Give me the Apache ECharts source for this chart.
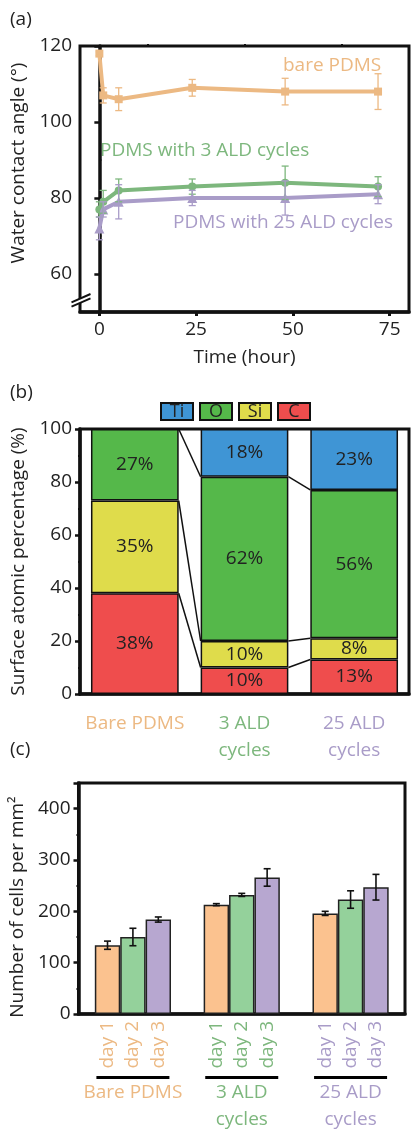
<!DOCTYPE html>
<html>
<head>
<meta charset="utf-8">
<script src="https://cdn.jsdelivr.net/npm/echarts@6/dist/echarts.min.js"></script>
<style>
html,body{margin:0;padding:0;background:#fff;}
#chart{width:411px;height:1131px;}
</style>
</head>
<body>
<div id="chart"></div>
<script>
// ---------- Panel (a): water contact angle ----------
const timeHours = [0, 1, 5, 24, 48, 72];
const bareAngle = [118, 107, 106, 109, 108, 108];
const bareErr = [0.5, 2, 3, 2.2, 3.5, 4.7];
const ald3Angle = [77, 79, 82, 83, 84, 83];
const ald3Err = [2, 3, 3, 2, 4.4, 2.6];
const ald25Angle = [72, 77, 79, 80, 80, 81];
const ald25Err = [3, 2, 4.5, 2, 4.5, 2.5];
const angleTicks = [60, 80, 100, 120];
const angleMinorTicks = [70, 90, 110];
const timeTicks = [0, 25, 50, 75];
const timeMinorTicks = [12.5, 37.5, 62.5];

// ---------- Panel (b): surface composition ----------
const sampleCats = ['Bare PDMS', '3 ALD\ncycles', '25 ALD\ncycles'];
const elementNames = ['Ti', 'O', 'Si', 'C'];
const tiPct = [0, 18, 23];
const oPct = [27, 62, 56];
const siPct = [35, 10, 8];
const cPct = [38, 10, 13];

// ---------- Panel (c): cell counts ----------
const dayNames = ['day 1', 'day 2', 'day 3'];
const day1Cells = [134, 213, 196];
const day2Cells = [150, 232, 223];
const day3Cells = [184, 266, 247];
const day1Err = [8, 2, 4];
const day2Err = [17, 3, 17];
const day3Err = [5, 17, 25];

// ---------- styles ----------
const FONT = 'Open Sans';
const sampleColors = ['#ECB983', '#7DB77D', '#A99CC8'];
const elemColors = {Ti: '#3F95D5', O: '#55B84A', Si: '#DFDC4B', C: '#EF4D4D'};
const dayColors = ['#FBC28F', '#94D19B', '#B7A7D0'];
const txt = '#222';

const chart = echarts.init(document.getElementById('chart'), null, {renderer: 'canvas'});

function errRender(color, capHalf, lw) {
  return function (params, api) {
    const x = api.value(0);
    const lo = api.coord([x, api.value(1)]);
    const hi = api.coord([x, api.value(2)]);
    const st = {stroke: color, lineWidth: lw};
    return {type: 'group', children: [
      {type: 'line', shape: {x1: lo[0], y1: lo[1], x2: hi[0], y2: hi[1]}, style: st},
      {type: 'line', shape: {x1: lo[0] - capHalf, y1: lo[1], x2: lo[0] + capHalf, y2: lo[1]}, style: st},
      {type: 'line', shape: {x1: hi[0] - capHalf, y1: hi[1], x2: hi[0] + capHalf, y2: hi[1]}, style: st}
    ]};
  };
}

function lineSeries(name, vals, color, symbol, size) {
  return {
    type: 'line', name: name, xAxisIndex: 0, yAxisIndex: 0,
    data: timeHours.map((t, i) => [t, vals[i]]),
    symbol: symbol, symbolSize: size,
    lineStyle: {color: color, width: 4}, itemStyle: {color: color},
    z: 3
  };
}
function errSeries(vals, errs, color) {
  return {
    type: 'custom', xAxisIndex: 0, yAxisIndex: 0,
    data: timeHours.map((t, i) => [t, vals[i] - errs[i], vals[i] + errs[i]]),
    encode: {x: 0, y: [1, 2]},
    renderItem: errRender(color, 3.5, 1.3), z: 4, silent: true
  };
}

// stacked tops for connector lines in (b)
const cTop = cPct.slice();
const siTop = cPct.map((v, i) => v + siPct[i]);
const oTop = cPct.map((v, i) => v + siPct[i] + oPct[i]);
const connData = [];
[cTop, siTop, oTop].forEach(arr => {
  for (let i = 0; i < arr.length - 1; i++) connData.push([i, arr[i], arr[i + 1]]);
});

function stackBar(name, vals) {
  return {
    type: 'bar', name: name, stack: 'comp', xAxisIndex: 2, yAxisIndex: 2,
    barWidth: '80%', data: vals,
    itemStyle: {color: elemColors[name], borderColor: '#111', borderWidth: 1.5},
    label: {show: true, position: 'inside', fontSize: 19, fontFamily: FONT, color: txt,
      formatter: p => (p.value > 0 ? p.value + '%' : '')}
  };
}

function dayBar(idx, vals) {
  return {
    type: 'bar', name: dayNames[idx], xAxisIndex: 4, yAxisIndex: 3,
    barGap: '0%', barCategoryGap: '30%',
    data: vals.map((v, i) => ({value: v, label: {color: sampleColors[i]}})),
    itemStyle: {color: dayColors[idx], borderColor: '#222', borderWidth: 1.5},
    label: {show: true, position: 'bottom', rotate: 90, align: 'right', verticalAlign: 'middle',
      distance: 7, fontSize: 19, fontFamily: FONT, formatter: '{a}'}
  };
}
const cellErrData = [];
[[day1Cells, day1Err], [day2Cells, day2Err], [day3Cells, day3Err]].forEach((pair, d) => {
  pair[0].forEach((v, i) => cellErrData.push([i, v - pair[1][i], v + pair[1][i], d]));
});

const legendRich = {};
elementNames.forEach(n => {
  legendRich['e' + n] = {backgroundColor: elemColors[n], borderColor: '#111', borderWidth: 2,
    width: 30, height: 15, lineHeight: 15, align: 'center', fontSize: 18, fontFamily: FONT, color: txt};
});

const cRich = {u: {backgroundColor: '#000', width: 73, height: 3, lineHeight: 3}};
sampleColors.forEach((c, i) => { cRich['g' + i] = {color: c, fontSize: 19, fontFamily: FONT, lineHeight: 27}; });

const option = {
  animation: false,
  backgroundColor: '#fff',
  textStyle: {fontFamily: FONT},
  legend: {
    data: elementNames, left: 152, top: 397, itemGap: 2, itemWidth: 0, itemHeight: 15,
    icon: 'rect', itemStyle: {color: 'rgba(0,0,0,0)', borderWidth: 0}, selectedMode: false,
    formatter: n => '{e' + n + '|' + n + '}',
    textStyle: {rich: legendRich}
  },
  grid: [
    {left: 80, top: 46, width: 329, height: 266, show: true, borderColor: '#111', borderWidth: 3},
    {left: 80, top: 429, width: 329, height: 265, show: true, borderColor: '#111', borderWidth: 3},
    {left: 73, top: 783, width: 332, height: 231, show: true, borderColor: '#111', borderWidth: 3}
  ],
  xAxis: [
    {type: 'value', gridIndex: 0, min: -5, max: 80,
      name: 'Time (hour)', nameLocation: 'middle', nameGap: 36,
      nameTextStyle: {fontSize: 19, color: txt, fontFamily: FONT},
      axisLine: {lineStyle: {color: '#111', width: 3.5}},
      axisTick: {customValues: timeTicks, length: 4, lineStyle: {width: 3, color: '#111'}},
      axisLabel: {customValues: timeTicks, fontSize: 19, color: txt, margin: 8},
      splitLine: {show: false}},
    {type: 'value', gridIndex: 0, min: -5, max: 80,
      axisLine: {show: false},
      axisTick: {customValues: timeMinorTicks, length: 2, lineStyle: {width: 2, color: '#111'}},
      axisLabel: {show: false}, splitLine: {show: false}},
    {type: 'category', gridIndex: 1, data: sampleCats,
      axisLine: {lineStyle: {color: '#111', width: 3.5}},
      axisTick: {alignWithLabel: true, length: 4, lineStyle: {width: 3, color: '#111'}},
      axisLabel: {interval: 0, fontSize: 19, lineHeight: 27, margin: 16, color: (v, i) => sampleColors[i]}},
    {type: 'category', gridIndex: 1, data: sampleCats,
      axisLine: {show: false},
      axisTick: {alignWithLabel: false, length: 2, lineStyle: {width: 2, color: '#111'}},
      axisLabel: {show: false}},
    {type: 'category', gridIndex: 2, data: sampleCats,
      axisLine: {lineStyle: {color: '#111', width: 3.5}},
      axisTick: {show: false},
      axisLabel: {interval: 0, margin: 62,
        formatter: (v, i) => '{u|}\n' + v.split('\n').map(s => '{g' + i + '|' + s + '}').join('\n'),
        rich: cRich}}
  ],
  yAxis: [
    {type: 'value', gridIndex: 0, min: 50, max: 120,
      name: 'Water contact angle (°)', nameLocation: 'middle', nameGap: 39, nameRotate: 90,
      nameTextStyle: {fontSize: 19, color: txt, fontFamily: FONT, padding: [0, 0, 0, 32]},
      axisLine: {lineStyle: {color: '#111', width: 3.5}},
      axisTick: {customValues: angleTicks, length: 5, lineStyle: {width: 2.5, color: '#111'}},
      axisLabel: {customValues: angleTicks, fontSize: 19, color: txt, margin: 8},
      splitLine: {show: false}},
    {type: 'value', gridIndex: 0, min: 50, max: 120,
      axisLine: {show: false},
      axisTick: {customValues: angleMinorTicks, length: 2, lineStyle: {width: 2, color: '#111'}},
      axisLabel: {show: false}, splitLine: {show: false}},
    {type: 'value', gridIndex: 1, min: 0, max: 100, interval: 20,
      name: 'Surface atomic percentage (%)', nameLocation: 'middle', nameGap: 39, nameRotate: 90,
      nameTextStyle: {fontSize: 19, color: txt, fontFamily: FONT},
      axisLine: {show: true, lineStyle: {color: '#111', width: 3.5}},
      axisTick: {show: true, length: 5, lineStyle: {width: 2.5, color: '#111'}},
      minorTick: {show: true, splitNumber: 2, length: 2, lineStyle: {width: 2, color: '#111'}},
      axisLabel: {fontSize: 19, color: txt, margin: 8},
      splitLine: {show: false}},
    {type: 'value', gridIndex: 2, min: 0, max: 450, interval: 100,
      name: 'Number of cells per mm²', nameLocation: 'middle', nameGap: 42, nameRotate: 90,
      nameTextStyle: {fontSize: 19, color: txt, fontFamily: FONT, padding: [0, 17, 0, 0]},
      axisLine: {show: true, lineStyle: {color: '#111', width: 3.5}},
      axisTick: {show: true, length: 5, lineStyle: {width: 2.5, color: '#111'}},
      minorTick: {show: true, splitNumber: 2, length: 2, lineStyle: {width: 2, color: '#111'}},
      axisLabel: {fontSize: 19, color: txt, margin: 8, showMaxLabel: false},
      splitLine: {show: false}}
  ],
  series: [
    lineSeries('bare PDMS', bareAngle, sampleColors[0], 'rect', 8),
    lineSeries('PDMS with 3 ALD cycles', ald3Angle, sampleColors[1], 'circle', 8),
    lineSeries('PDMS with 25 ALD cycles', ald25Angle, sampleColors[2], 'triangle', 10),
    errSeries(bareAngle, bareErr, sampleColors[0]),
    errSeries(ald3Angle, ald3Err, sampleColors[1]),
    errSeries(ald25Angle, ald25Err, sampleColors[2]),
    stackBar('C', cPct),
    stackBar('Si', siPct),
    stackBar('O', oPct),
    stackBar('Ti', tiPct),
    {type: 'custom', xAxisIndex: 2, yAxisIndex: 2, data: connData, encode: {x: 0, y: [1, 2]}, silent: true, z: 5,
      renderItem: function (params, api) {
        const i = api.value(0);
        const bw = api.size([1, 0])[0];
        const p1 = api.coord([i, api.value(1)]);
        const p2 = api.coord([i + 1, api.value(2)]);
        return {type: 'line', shape: {x1: p1[0] + 0.4 * bw, y1: p1[1], x2: p2[0] - 0.4 * bw, y2: p2[1]},
          style: {stroke: '#111', lineWidth: 1.5}};
      }},
    dayBar(0, day1Cells),
    dayBar(1, day2Cells),
    dayBar(2, day3Cells),
    {type: 'custom', xAxisIndex: 4, yAxisIndex: 3, data: cellErrData, encode: {x: 0, y: [1, 2]}, silent: true, z: 5,
      renderItem: function (params, api) {
        const band = api.size([1, 0])[0];
        const barW = band * 0.7 / 3;
        const i = api.value(0);
        const cx = api.coord([i, 0])[0] + (api.value(3) - 1) * barW;
        const lo = api.coord([i, api.value(1)])[1];
        const hi = api.coord([i, api.value(2)])[1];
        const st = {stroke: '#111', lineWidth: 1.6};
        return {type: 'group', children: [
          {type: 'line', shape: {x1: cx, y1: lo, x2: cx, y2: hi}, style: st},
          {type: 'line', shape: {x1: cx - 3.5, y1: lo, x2: cx + 3.5, y2: lo}, style: st},
          {type: 'line', shape: {x1: cx - 3.5, y1: hi, x2: cx + 3.5, y2: hi}, style: st}
        ]};
      }}
  ],
  graphic: [
    {type: 'text', left: 10, top: 10, style: {text: '(a)', fontSize: 19, fontFamily: FONT, fill: txt}},
    {type: 'text', left: 10, top: 383, style: {text: '(b)', fontSize: 19, fontFamily: FONT, fill: txt}},
    {type: 'text', left: 10, top: 740, style: {text: '(c)', fontSize: 19, fontFamily: FONT, fill: txt}},
    {type: 'text', left: 283, top: 56, style: {text: 'bare PDMS', fontSize: 19, fontFamily: FONT, fill: sampleColors[0]}},
    {type: 'text', left: 100, top: 141, style: {text: 'PDMS with 3 ALD cycles', fontSize: 19, fontFamily: FONT, fill: sampleColors[1]}},
    {type: 'text', left: 173, top: 213, style: {text: 'PDMS with 25 ALD cycles', fontSize: 19, fontFamily: FONT, fill: sampleColors[2]}},
    {type: 'polygon', z: 100, shape: {points: [[71.5, 302.3], [90.5, 294], [90.5, 298.3], [71.5, 306.7]]}, style: {fill: '#fff'}},
    {type: 'line', z: 101, shape: {x1: 71.5, y1: 302.3, x2: 90.5, y2: 294}, style: {stroke: '#111', lineWidth: 2}},
    {type: 'line', z: 101, shape: {x1: 71.5, y1: 306.7, x2: 90.5, y2: 298.3}, style: {stroke: '#111', lineWidth: 2}}
  ]
};
chart.setOption(option);
</script>
</body>
</html>
